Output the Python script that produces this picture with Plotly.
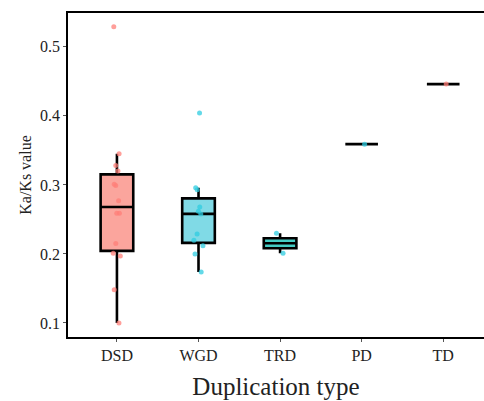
import numpy as np
import plotly.graph_objects as go

categories = ["DSD", "WGD", "TRD", "PD", "TD"]
dsd_values = [0.529, 0.345, 0.328, 0.320, 0.301, 0.299, 0.277, 0.259, 0.259,
              0.215, 0.201, 0.197, 0.148, 0.100]
wgd_values = [0.404, 0.296, 0.293, 0.268, 0.262, 0.258, 0.229, 0.220, 0.212,
              0.200, 0.174]
trd_values = [0.230, 0.201]
pd_values = [0.359]
td_values = [0.446]
series = [dsd_values, wgd_values, trd_values, pd_values, td_values]

fill_colors = ["#FBA59D", "#80DAE6", "#45CCC4", "#80DAE6", "#FBA59D"]
point_colors = ["#FF7F78", "#2FCCE0", "#2FCCE0", "#2FCCE0", "#FF7F78"]
y_ticks = [0.1, 0.2, 0.3, 0.4, 0.5]


def box_stats(vals):
    a = np.asarray(vals, dtype=float)
    q1, med, q3 = np.percentile(a, [25, 50, 75])
    iqr = q3 - q1
    lo = a[a >= q1 - 1.5 * iqr].min()
    hi = a[a <= q3 + 1.5 * iqr].max()
    return q1, med, q3, lo, hi


fig = go.Figure()

for cat, vals, fc in zip(categories, series, fill_colors):
    q1, med, q3, lo, hi = box_stats(vals)
    fig.add_trace(go.Box(
        x=[cat], q1=[q1], median=[med], q3=[q3],
        lowerfence=[lo], upperfence=[hi],
        width=0.4, whiskerwidth=0,
        fillcolor=fc,
        line=dict(color="black", width=2.6),
        boxpoints=False, showlegend=False,
    ))

for cat, vals, pc in zip(categories, series, point_colors):
    fig.add_trace(go.Box(
        x=[cat] * len(vals), y=vals,
        width=0.4, whiskerwidth=0,
        fillcolor="rgba(0,0,0,0)",
        line=dict(color="rgba(0,0,0,0)", width=0),
        boxpoints="all", jitter=0.35, pointpos=0,
        marker=dict(color=pc, size=5, opacity=0.75),
        showlegend=False,
    ))

font_family = "Liberation Serif"

fig.update_layout(
    width=484, height=401,
    margin=dict(l=68, r=0, t=13, b=64, autoexpand=False),
    plot_bgcolor="white", paper_bgcolor="white",
    boxmode="overlay",
    font=dict(family=font_family, color="#222"),
)
fig.update_xaxes(
    type="category", categoryorder="array", categoryarray=categories,
    range=[-0.6, 4.5], automargin=False,
    showline=True, linecolor="black", linewidth=1.5, mirror=True,
    ticks="outside", ticklen=3, tickcolor="#555", tickwidth=1,
    showgrid=False, zeroline=False,
    tickfont=dict(size=16, family=font_family, color="#222"),
    title=dict(text="Duplication type", standoff=15,
               font=dict(size=25, family=font_family, color="#222")),
)
fig.update_yaxes(
    range=[0.0797, 0.549], automargin=False,
    tickvals=y_ticks, ticktext=[f"{v:.1f}" for v in y_ticks],
    showline=True, linecolor="black", linewidth=1.5, mirror=False,
    ticks="outside", ticklen=3, tickcolor="#555", tickwidth=1,
    showgrid=False, zeroline=False,
    tickfont=dict(size=16, family=font_family, color="#222"),
    title=dict(text="Ka/Ks value", standoff=4,
               font=dict(size=16, family=font_family, color="#222")),
)

fig.write_html(
    "out.html",
    config={"displayModeBar": False},
    post_script="document.body.style.margin='0';document.body.style.overflow='hidden';",
)
